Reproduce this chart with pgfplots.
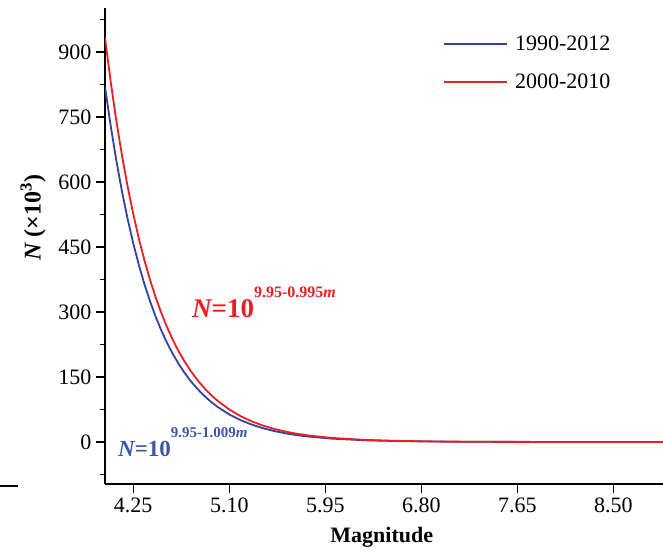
\documentclass[border=0pt]{standalone}
\usepackage{fontspec}
\setmainfont{Liberation Serif}
\usepackage{pgfplots}
\pgfplotsset{compat=1.18}
\definecolor{cblue}{RGB}{48,68,158}
\definecolor{cred}{RGB}{236,30,36}
\definecolor{tblue}{RGB}{62,84,168}
\begin{document}
\begin{tikzpicture}[x=1pt,y=1pt]
\begin{axis}[
  at={(0pt,0pt)}, anchor=south west,
  scale only axis, width=558pt, height=476pt,
  xmin=4.0, xmax=8.94, ymin=-97, ymax=1002,
  axis x line=bottom, axis y line=left,
  axis line style={-, line width=1.6pt, black},
  every outer x axis line/.append style={-},
  every outer y axis line/.append style={-},
  tick align=outside,
  major tick length=9pt, minor tick length=5pt,
  tick style={line width=1.4pt, black},
  xtick={4.25,5.10,5.95,6.80,7.65,8.50},
  xticklabels={4.25,5.10,5.95,6.80,7.65,8.50},
  ytick={0,150,300,450,600,750,900},
  minor ytick={-75,75,225,375,525,675,825,975},
  /pgf/number format/assume math mode=true,
  tick label style={font=\fontsize{22}{25}\selectfont},
  xticklabel style={yshift=-1pt},
  yticklabel style={xshift=-1pt},
  xlabel={\bfseries Magnitude},
  xlabel style={at={(axis description cs:0.496,-0.113)}, anchor=center, font=\fontsize{22}{24}\selectfont},
  ylabel={\bfseries\itshape N\upshape\ (\texttimes10\textsuperscript{3})},
  ylabel style={at={(axis description cs:-0.129,0.56)}, anchor=center, rotate=0, font=\fontsize{24}{26}\selectfont},
  legend style={draw=none, fill=none, at={(axis description cs:0.60,0.95)}, anchor=north west,
    font=\fontsize{22}{25}\selectfont, row sep=18pt,
    /tikz/every odd column/.append style={column sep=5pt}},
  legend cell align=left,
  legend image code/.code={\draw[#1, line width=2pt] (0pt,0pt) -- (63pt,0pt);},
  clip=true,
]
\addplot[cblue, line width=1.8pt] coordinates {
(4.00,820.4) (4.05,730.5) (4.10,650.3) (4.15,578.9) (4.20,515.4) (4.25,458.9)
(4.30,408.6) (4.35,363.7) (4.40,323.8) (4.45,288.4) (4.50,256.7) (4.55,228.6)
(4.60,203.5) (4.65,181.2) (4.70,161.3) (4.75,143.7) (4.80,127.9) (4.85,113.9)
(4.90,101.4) (4.95,90.3) (5.00,80.4) (5.10,63.7) (5.20,50.5) (5.30,40.0)
(5.40,31.7) (5.50,25.2) (5.60,19.9) (5.70,15.8) (5.80,12.5) (6.00,7.87)
(6.30,3.92) (6.60,1.95) (7.00,0.77) (7.50,0.24) (8.00,0.075) (8.94,0.007)
};
\addlegendentry{1990-2012}
\addplot[cred, line width=1.8pt] coordinates {
(4.00,933.3) (4.05,832.4) (4.10,742.3) (4.15,661.9) (4.20,590.2) (4.25,526.4)
(4.30,469.5) (4.35,418.6) (4.40,373.3) (4.45,332.9) (4.50,296.9) (4.55,264.7)
(4.60,236.0) (4.65,210.5) (4.70,187.7) (4.75,167.4) (4.80,149.3) (4.85,133.1)
(4.90,118.7) (4.95,105.9) (5.00,94.4) (5.10,75.1) (5.20,59.7) (5.30,47.5)
(5.40,37.8) (5.50,30.0) (5.60,23.9) (5.70,19.0) (5.80,15.1) (6.00,9.55)
(6.30,4.80) (6.60,2.42) (7.00,0.97) (7.50,0.31) (8.00,0.098) (8.94,0.010)
};
\addlegendentry{2000-2010}
\node[anchor=base west, text=cred, inner sep=0pt] at (axis cs:4.77,288)
  {\fontsize{27}{30}\selectfont\bfseries\itshape N\upshape=10\raisebox{20pt}{\fontsize{16}{18}\selectfont 9.95-0.995\itshape m}};
\node[anchor=base west, text=tblue, inner sep=0pt] at (axis cs:4.115,-34.6)
  {\fontsize{23}{26}\selectfont\bfseries\itshape N\upshape=10\raisebox{19pt}{\fontsize{15}{17}\selectfont 9.95-1.009\itshape m}};
\end{axis}
\draw[line width=1.2pt] (-105pt,-2pt) -- (-87pt,-2pt);
\pgfresetboundingbox
\path[use as bounding box] (-105pt,-69pt) rectangle (558pt,484pt);
\end{tikzpicture}
\end{document}
